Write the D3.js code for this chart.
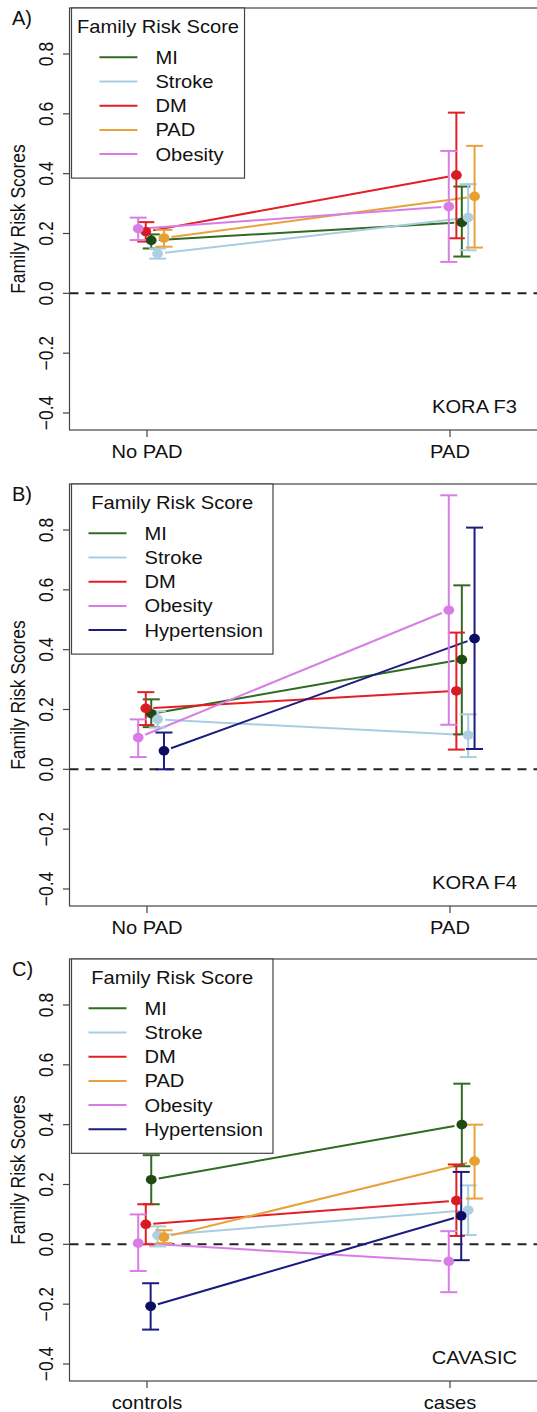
<!DOCTYPE html>
<html>
<head>
<meta charset="utf-8">
<script src="https://cdn.jsdelivr.net/npm/d3@7"></script>
<style>
  body { margin: 0; background: #fff; }
  svg { display: block; font-family: "Liberation Sans", Arial, Helvetica, sans-serif; }
</style>
</head>
<body>
<div id="chart"></div>
<script>
// ---- data ----
var yTicks = [-0.4, -0.2, 0.0, 0.2, 0.4, 0.6, 0.8];

// A) KORA F3
var groupsA = ["No PAD", "PAD"];
var seriesA = ["MI", "Stroke", "DM", "PAD", "Obesity"];
var meanA  = [[0.177, 0.237], [0.133, 0.253], [0.206, 0.395], [0.185, 0.324], [0.216, 0.290]];
var lowerA = [[0.150, 0.123], [0.116, 0.144], [0.173, 0.184], [0.156, 0.153], [0.178, 0.105]];
var upperA = [[0.197, 0.357], [0.150, 0.365], [0.238, 0.604], [0.212, 0.493], [0.253, 0.476]];
var dodgeA = [0.014, 0.035, -0.004, 0.056, -0.029];

// B) KORA F4
var groupsB = ["No PAD", "PAD"];
var seriesB = ["MI", "Stroke", "DM", "Obesity", "Hypertension"];
var meanB  = [[0.186, 0.367], [0.167, 0.114], [0.204, 0.262], [0.106, 0.532], [0.062, 0.437]];
var lowerB = [[0.141, 0.117], [0.140, 0.041], [0.148, 0.066], [0.041, 0.149], [0.000, 0.068]];
var upperB = [[0.234, 0.615], [0.194, 0.184], [0.258, 0.457], [0.167, 0.916], [0.123, 0.808]];
var dodgeB = [0.014, 0.035, -0.004, -0.029, 0.056];

// C) CAVASIC
var groupsC = ["controls", "cases"];
var seriesC = ["MI", "Stroke", "DM", "PAD", "Obesity", "Hypertension"];
var meanC  = [[0.216, 0.400], [0.030, 0.114], [0.067, 0.146], [0.024, 0.278], [0.004, -0.057], [-0.207, 0.095]];
var lowerC = [[0.134, 0.261], [-0.007, 0.031], [0.000, 0.028], [0.004, 0.153], [-0.089, -0.160], [-0.285, -0.053]];
var upperC = [[0.298, 0.537], [0.060, 0.197], [0.134, 0.267], [0.047, 0.400], [0.100, 0.044], [-0.130, 0.242]];
var dodgeC = [0.014, 0.035, -0.004, 0.056, -0.029, 0.012];

var groupShift = [0, 0.025];

var lineColor = {
  "MI": "#2f6b22", "Stroke": "#a9cde0", "DM": "#e31e24",
  "PAD": "#e9a23b", "Obesity": "#d97de6", "Hypertension": "#1c1c80"
};
var dotColor = {
  "MI": "#1f4a14", "Stroke": "#aecfe2", "DM": "#d81b22",
  "PAD": "#e8a030", "Obesity": "#d97de6", "Hypertension": "#0c0c62"
};

var panels = [
  {label: "A)", name: "KORA F3", top: 8,   groups: groupsA, series: seriesA, mean: meanA, lower: lowerA, upper: upperA, dodge: dodgeA},
  {label: "B)", name: "KORA F4", top: 484, groups: groupsB, series: seriesB, mean: meanB, lower: lowerB, upper: upperB, dodge: dodgeB},
  {label: "C)", name: "CAVASIC", top: 959, groups: groupsC, series: seriesC, mean: meanC, lower: lowerC, upper: upperC, dodge: dodgeC}
];

// ---- layout ----
var W = 537, H = 1412;
var frameLeft = 69.5, frameRight = 541, frameH = 422;
var fs = 17.5, sx = 1.15;   // the figure is stretched horizontally
var axisCol = "#444";

var svg = d3.select("#chart").append("svg")
  .attr("width", W).attr("height", H);

// text that is stretched horizontally like the reference
function stext(g, x, y, str, size, anchor, rot, scaleX) {
  var t = "translate(" + x + "," + y + ") scale(" + (scaleX || sx) + ",1)";
  if (rot) t += " rotate(" + rot + ")";
  return g.append("text")
    .attr("transform", t)
    .attr("font-size", size)
    .attr("text-anchor", anchor || "start")
    .attr("fill", "#111")
    .text(str);
}

var x = d3.scaleLinear().domain([1, 2]).range([147, 450]);

panels.forEach(function(p){
  var g = svg.append("g");
  var y = d3.scaleLinear().domain([-0.4, 0.8]).range([p.top + 405, p.top + 46]);
  var bottom = p.top + frameH;

  // y axis ticks + labels
  yTicks.forEach(function(t){
    g.append("line")
      .attr("x1", frameLeft - 6.5).attr("x2", frameLeft)
      .attr("y1", y(t)).attr("y2", y(t))
      .attr("stroke", axisCol).attr("stroke-width", 1.2);
    stext(g, 53, y(t), d3.format(".1f")(t).replace("-", "\u2212"), fs, "middle", -90);
  });
  stext(g, 25, p.top + frameH / 2, "Family Risk Scores", fs, "middle", -90);

  // x axis ticks + labels
  p.groups.forEach(function(name, i){
    g.append("line")
      .attr("x1", x(i + 1)).attr("x2", x(i + 1))
      .attr("y1", bottom).attr("y2", bottom + 7)
      .attr("stroke", axisCol).attr("stroke-width", 1.2);
    stext(g, x(i + 1), bottom + 28, name, fs, "middle");
  });

  // zero reference line
  g.append("line")
    .attr("x1", frameLeft).attr("x2", frameRight)
    .attr("y1", y(0)).attr("y2", y(0))
    .attr("stroke", "#222").attr("stroke-width", 2)
    .attr("stroke-dasharray", "9,7");

  // connecting lines, with a gap at the points (type = "b")
  var gap = 7.5;
  p.series.forEach(function(s, k){
    var x1 = x(1 + p.dodge[k] + groupShift[0]), y1 = y(p.mean[k][0]);
    var x2 = x(2 + p.dodge[k] + groupShift[1]), y2 = y(p.mean[k][1]);
    var dx = x2 - x1, dy = y2 - y1, len = Math.sqrt(dx * dx + dy * dy);
    g.append("line")
      .attr("x1", x1 + dx / len * gap).attr("y1", y1 + dy / len * gap)
      .attr("x2", x2 - dx / len * gap).attr("y2", y2 - dy / len * gap)
      .attr("stroke", lineColor[s]).attr("stroke-width", 2);
  });

  // error bars and points
  p.series.forEach(function(s, k){
    [0, 1].forEach(function(j){
      var cx = x(j + 1 + p.dodge[k] + groupShift[j]);
      var lo = y(p.lower[k][j]), hi = y(p.upper[k][j]);
      var cw = 8.5;
      g.append("line").attr("x1", cx).attr("x2", cx).attr("y1", lo).attr("y2", hi)
        .attr("stroke", lineColor[s]).attr("stroke-width", 2);
      [lo, hi].forEach(function(yy){
        g.append("line").attr("x1", cx - cw).attr("x2", cx + cw).attr("y1", yy).attr("y2", yy)
          .attr("stroke", lineColor[s]).attr("stroke-width", 2);
      });
    });
  });
  p.series.forEach(function(s, k){
    [0, 1].forEach(function(j){
      g.append("ellipse")
        .attr("cx", x(j + 1 + p.dodge[k] + groupShift[j]))
        .attr("cy", y(p.mean[k][j]))
        .attr("rx", 5.4).attr("ry", 4.8)
        .attr("fill", dotColor[s]);
    });
  });

  // frame
  g.append("rect")
    .attr("x", frameLeft).attr("y", p.top)
    .attr("width", frameRight - frameLeft).attr("height", frameH)
    .attr("fill", "none").attr("stroke", axisCol).attr("stroke-width", 1.2);

  // panel label and cohort name
  stext(g, 12, p.top + 17, p.label, 20, "start", 0, 1.0);
  stext(g, 517, y(-0.4), p.name, fs, "end");

  // legend
  var lg = g.append("g");
  var title = stext(lg, 0, 0, "Family Risk Score", fs, "middle");
  var titleW = title.node().getComputedTextLength() * sx;
  var labels = p.series.map(function(s, k){
    return stext(lg, 0, 0, s, fs, "start");
  });
  var textW = d3.max(labels, function(l){ return l.node().getComputedTextLength() * sx; });
  var entriesW = 17 + 38 + 18 + textW + 10;
  var boxW = Math.max(entriesW, titleW + 11);
  var off = (boxW - entriesW) / 2;
  var bx = frameLeft + 2, by = p.top;
  var boxH = 49.3 + (p.series.length - 1) * 24.2 + 24;

  lg.insert("rect", ":first-child")
    .attr("x", bx).attr("y", by).attr("width", boxW).attr("height", boxH)
    .attr("fill", "#fff").attr("stroke", axisCol).attr("stroke-width", 1.2);
  title.attr("transform", "translate(" + (bx + boxW / 2) + "," + (by + 25) + ") scale(" + sx + ",1)");
  p.series.forEach(function(s, k){
    var ly = by + 49.3 + k * 24.2;
    lg.append("line")
      .attr("x1", bx + off + 17).attr("x2", bx + off + 55)
      .attr("y1", ly).attr("y2", ly)
      .attr("stroke", lineColor[s]).attr("stroke-width", 2);
    labels[k].attr("transform", "translate(" + (bx + off + 73) + "," + (ly + 6.5) + ") scale(" + sx + ",1)");
  });
});
</script>
</body>
</html>
